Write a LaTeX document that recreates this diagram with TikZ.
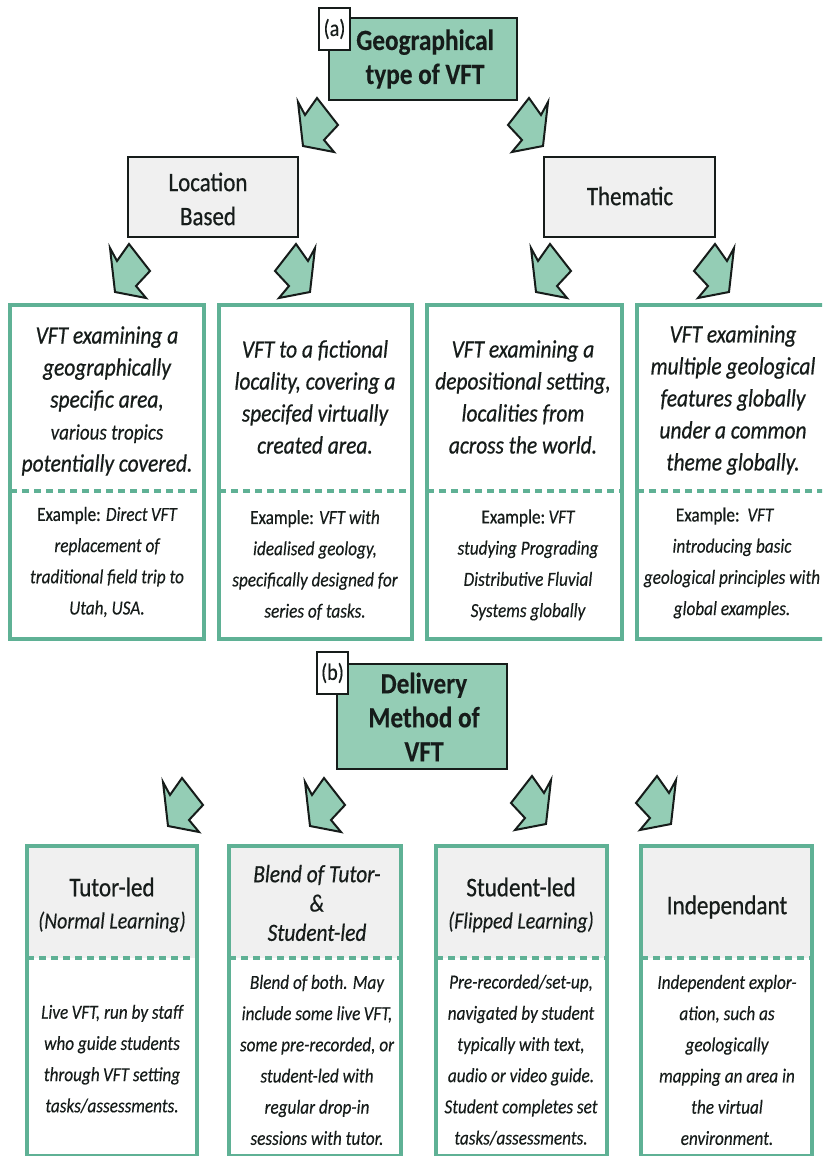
\documentclass[tikz,border=0pt]{standalone}
\usepackage{fontspec}
\setmainfont[FakeStretch=0.86,FakeBold=0.25]{Carlito}
\newfontfamily\strongface[FakeStretch=0.86,FakeBold=0.6]{Carlito}
\definecolor{mint}{HTML}{94CDB5}
\definecolor{cardgreen}{HTML}{5FB195}
\definecolor{headgray}{HTML}{F0F0F0}
\definecolor{inkdark}{HTML}{161C1A}
\newcommand{\minortext}[1]{{\normalfont\itshape\fontsize{16.6}{16.6}\selectfont #1}}
\newcommand{\exlabel}[1]{{\strongface\upshape #1}}
\tikzset{
  x=0.75pt,y=-0.75pt,
  box/.style={rectangle,inner sep=0pt,outer sep=0pt},
  rootbox/.style={box,draw=inkdark,fill=mint,line width=2.2pt},
  tagbox/.style={box,draw=inkdark,fill=white,line width=1.3pt,font=\fontsize{17.5}{20}\selectfont,text=inkdark},
  midbox/.style={box,draw=inkdark,fill=headgray,line width=2.2pt},
  cardbox/.style={box,draw=cardgreen,line width=2.8pt},
  headfill/.style={box,fill=headgray},
  dashline/.style={draw=cardgreen,line width=2.6pt,dash pattern=on 5.2pt off 3.8pt},
  txt/.style={inner sep=0pt,outer sep=0pt,align=center,text=inkdark},
  titletext/.style={txt,font=\fontsize{22}{25.5}\selectfont\bfseries},
  midtext/.style={txt,font=\strongface\fontsize{20}{25.5}\selectfont},
  leadtext/.style={txt,font=\strongface\fontsize{18.7}{24}\selectfont\itshape},
  bodytext/.style={txt,font=\fontsize{15}{23.4}\selectfont\itshape},
  headtext/.style={txt,font=\strongface\fontsize{20.2}{26}\selectfont},
  headnote/.style={txt,font=\fontsize{17.4}{26}\selectfont\itshape},
  arrowshape/.style={draw=inkdark,fill=mint,line width=1.5pt,line join=miter,miter limit=8},
  pics/blockarrow/.style={code={
    \draw[arrowshape] (-20,-23)--(-13,-10)--(-1,-27)--(20,0)--(6,15)--(16,27)--(-15,21)--cycle;}}
}
\begin{document}
\begin{tikzpicture}
\useasboundingbox (0,0) rectangle (822,1156);
\clip (0,0) rectangle (822,1156);
\fill[white] (0,0) rectangle (822,1156);

% Panel (a)
\node[rootbox,minimum width=141pt,minimum height=61.5pt] (geo) at (423,59) {};
\node[tagbox,minimum width=23pt,minimum height=31.5pt] (taga) at (334.5,29) {(a)};
\node[titletext] (geotxt) at (425,59) {Geographical\\type of VFT};

\node[midbox,minimum width=127.5pt,minimum height=60pt] (loc) at (213,197) {};
\node[midtext] (loctxt) at (208,199) {Location\\Based};
\node[midbox,minimum width=128.25pt,minimum height=60pt] (the) at (629.5,197) {};
\node[midtext] (thetxt) at (630,196) {Thematic};

\coordinate (a1) at (318,125);
\coordinate (a2) at (528,125);
\coordinate (a3) at (130,271);
\coordinate (a4) at (295,271);
\coordinate (a5) at (551,271);
\coordinate (a6) at (714,271);
\pic at (a1) {blockarrow};
\pic[xscale=-1] at (a2) {blockarrow};
\pic at (a3) {blockarrow};
\pic[xscale=-1] at (a4) {blockarrow};
\pic at (a5) {blockarrow};
\pic[xscale=-1] at (a6) {blockarrow};

\node[cardbox,minimum width=145.5pt,minimum height=250.5pt] (c1) at (107,472) {};
\node[cardbox,minimum width=144.75pt,minimum height=250.5pt] (c2) at (315.5,472) {};
\node[cardbox,minimum width=146.25pt,minimum height=250.5pt] (c3) at (524.5,472) {};
\node[cardbox,minimum width=141pt,minimum height=250.5pt] (c4) at (731,472) {};
\draw[dashline] (10,491) -- (204,491);
\draw[dashline] (219,491) -- (412,491);
\draw[dashline] (427,491) -- (622,491);
\draw[dashline] (637,491) -- (825,491);

\node[leadtext] (c1t) at (107,401) {VFT examining a\\geographically\\specific area,\\\minortext{various tropics}\\potentially covered.};
\node[bodytext] (c1b) at (107,562) {\exlabel{Example:} Direct\,VFT\\replacement of\\traditional field trip to\\Utah, USA.};
\node[leadtext] (c2t) at (315,397) {VFT to a fictional\\locality, covering a\\specifed virtually\\created area.};
\node[bodytext] (c2b) at (315,565) {\exlabel{Example:} VFT with\\idealised geology,\\specifically designed for\\series of tasks.};
\node[leadtext] (c3t) at (523,397) {VFT examining a\\depositional setting,\\localities from\\across the world.};
\node[bodytext] (c3b) at (528,565) {\exlabel{Example:}\,VFT\\studying Prograding\\Distributive Fluvial\\Systems globally};
\node[leadtext] (c4t) at (733,400) {VFT examining\\multiple geological\\features globally\\under a common\\theme globally.};
\node[bodytext] (c4b) at (732,563) {\exlabel{Example:}\ \ VFT\hspace*{11pt}\\introducing basic\\geological principles with\\global examples.};

% Panel (b)
\node[rootbox,minimum width=127.5pt,minimum height=78.75pt] (del) at (422,716.5) {};
\node[tagbox,minimum width=23.25pt,minimum height=31.5pt] (tagb) at (332.5,673) {(b)};
\node[titletext] (deltxt) at (424,717) {Delivery\\Method of\\VFT};

\coordinate (b1) at (183,805);
\coordinate (b2) at (325,805);
\coordinate (b3) at (531,803);
\coordinate (b4) at (656,803);
\pic at (b1) {blockarrow};
\pic at (b2) {blockarrow};
\pic[xscale=-1] at (b3) {blockarrow};
\pic[xscale=-1] at (b4) {blockarrow};

\node[headfill,minimum width=127.5pt,minimum height=84pt] (h1) at (112,902) {};
\node[headfill,minimum width=129pt,minimum height=84pt] (h2) at (315,902) {};
\node[headfill,minimum width=128.25pt,minimum height=84pt] (h3) at (521.5,902) {};
\node[headfill,minimum width=128.25pt,minimum height=84pt] (h4) at (726.5,902) {};
\node[cardbox,minimum width=127.5pt,minimum height=232.5pt] (d1) at (112,1001) {};
\node[cardbox,minimum width=129pt,minimum height=232.5pt] (d2) at (315,1001) {};
\node[cardbox,minimum width=128.25pt,minimum height=232.5pt] (d3) at (521.5,1001) {};
\node[cardbox,minimum width=128.25pt,minimum height=232.5pt] (d4) at (726.5,1001) {};
\draw[dashline] (27,958) -- (197,958);
\draw[dashline] (229,958) -- (401,958);
\draw[dashline] (436,958) -- (607,958);
\draw[dashline] (641,958) -- (812,958);

\node[headtext] (d1h) at (112,887) {Tutor-led};
\node[headnote] (d1n) at (112,922) {(Normal Learning)};
\node[headnote,font=\strongface\fontsize{18.6}{22}\selectfont\itshape] (d2h) at (317,903) {Blend of Tutor-\\\&\\Student-led};
\node[headtext] (d3h) at (521,887) {Student-led};
\node[headnote] (d3n) at (521,922) {(Flipped Learning)};
\node[headtext] (d4h) at (727,907) {Independant};
\node[bodytext] (d1b) at (112,1059) {Live\,VFT, run by staff\\who guide students\\through\,VFT setting\\tasks/assessments.};
\node[bodytext] (d2b) at (317,1060) {Blend of both. May\\include some live\,VFT,\\some pre-recorded, or\\student-led with\\regular drop-in\\sessions with tutor.};
\node[bodytext] (d3b) at (521,1060) {Pre-recorded/set-up,\\navigated by student\\typically with text,\\audio or video guide.\\Student completes set\\tasks/assessments.};
\node[bodytext] (d4b) at (727,1060) {Independent explor-\\ation, such as\\geologically\\mapping an area in\\the virtual\\environment.};
\end{tikzpicture}
\end{document}
